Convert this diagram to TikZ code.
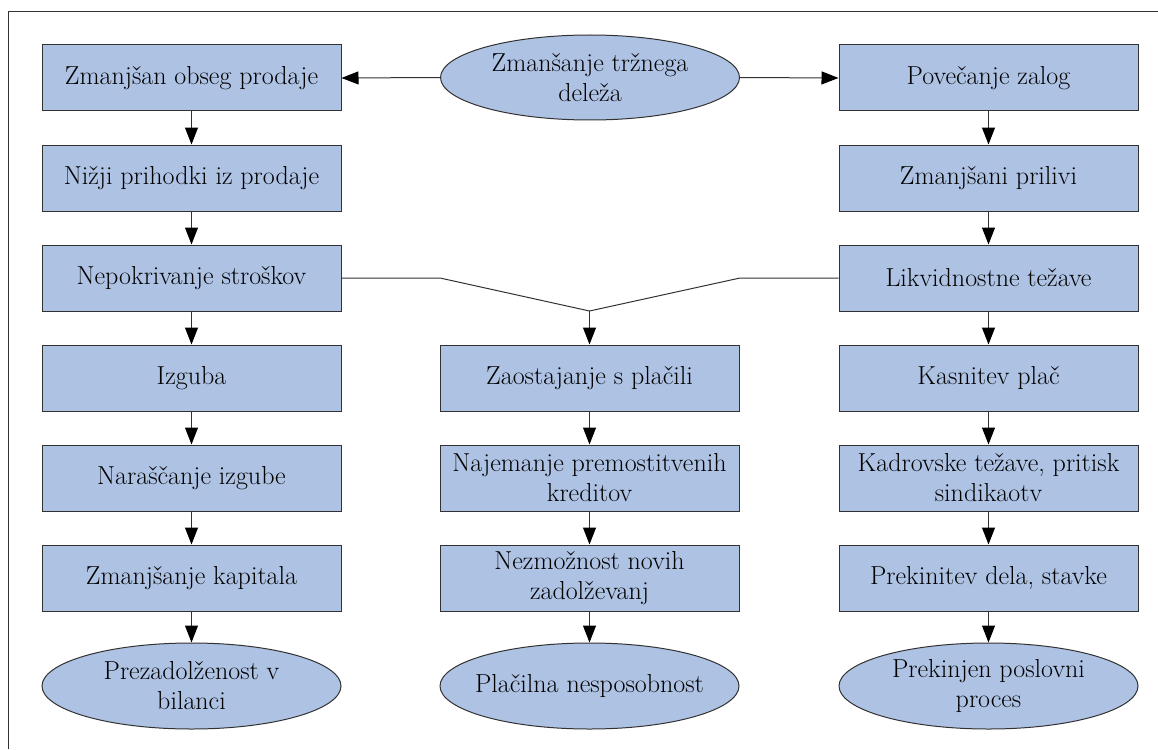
\documentclass[tikz,border=0pt]{standalone}
\usepackage{fontspec}
\usetikzlibrary{arrows.meta,shapes.geometric}
\definecolor{boxfill}{RGB}{174,194,227}
\definecolor{edgegray}{RGB}{50,50,50}
\tikzset{
  labeltext/.style={font=\fontsize{26}{30}\selectfont},
  stepbox/.style={draw=edgegray, line width=1pt, fill=boxfill, rectangle,
    minimum width=299pt, minimum height=66pt, inner sep=0pt, align=center,
    labeltext},
  endoval/.style={draw=edgegray, line width=1pt, fill=boxfill, ellipse,
    minimum width=299pt, minimum height=86pt, inner ysep=0pt, inner xsep=-60pt,
    align=center, labeltext},
  flow/.style={draw=edgegray, line width=1pt,
    -{Triangle[length=17pt,width=13pt,fill=black,color=black]}},
  link/.style={draw=edgegray, line width=1pt}
}
\begin{document}
\begin{tikzpicture}[x=1pt,y=-1pt]
  \useasboundingbox (0,0) rectangle (1158,749);
  % frame edges
  \draw[edgegray, line width=1pt] (8,749) -- (8,12) -- (1158,12);

  % top
  \node[endoval, minimum height=85pt] (top) at (590,77.5) {Zmanšanje tržnega\\deleža};

  % left column
  \node[stepbox] (l1) at (191.5,78) {Zmanjšan obseg prodaje};
  \node[stepbox] (l2) at (191.5,178) {Nižji prihodki iz prodaje};
  \node[stepbox] (l3) at (191.5,278) {Nepokrivanje stroškov};
  \node[stepbox] (l4) at (191.5,378) {Izguba};
  \node[stepbox] (l5) at (191.5,478) {Naraščanje izgube};
  \node[stepbox] (l6) at (191.5,578) {Zmanjšanje kapitala};
  \node[endoval] (l7) at (191.5,686) {Prezadolženost v\\bilanci};

  % middle column
  \node[stepbox] (m4) at (589.5,378) {Zaostajanje s plačili};
  \node[stepbox] (m5) at (589.5,478) {Najemanje premostitvenih\\kreditov};
  \node[stepbox] (m6) at (589.5,578) {Nezmožnost novih\\zadolževanj};
  \node[endoval] (m7) at (589.5,686) {Plačilna nesposobnost};

  % right column
  \node[stepbox] (r1) at (988.5,78) {Povečanje zalog};
  \node[stepbox] (r2) at (988.5,178) {Zmanjšani prilivi};
  \node[stepbox] (r3) at (988.5,278) {Likvidnostne težave};
  \node[stepbox] (r4) at (988.5,378) {Kasnitev plač};
  \node[stepbox] (r5) at (988.5,478) {Kadrovske težave, pritisk\\sindikaotv};
  \node[stepbox] (r6) at (988.5,578) {Prekinitev dela, stavke};
  \node[endoval] (r7) at (988.5,686) {Prekinjen poslovni\\proces};

  % branches from the top oval
  \draw[flow] (top.west) -- (l1.east);
  \draw[flow] (top.east) -- (r1.west);

  % vertical chains
  \foreach \a/\b in {l1/l2,l2/l3,l3/l4,l4/l5,l5/l6,l6/l7,
                     m4/m5,m5/m6,m6/m7,
                     r1/r2,r2/r3,r3/r4,r4/r5,r5/r6,r6/r7}
    \draw[flow] (\a.south) -- (\b.north);

  % merge into the middle column
  \coordinate (join) at (589.5,311);
  \coordinate (kl) at (440,278);
  \coordinate (kr) at (740,278);
  \draw[link] (l3.east) -- (kl) -- (join) -- (kr) -- (r3.west);
  \draw[flow] (join) -- (m4.north);
\end{tikzpicture}
\end{document}
